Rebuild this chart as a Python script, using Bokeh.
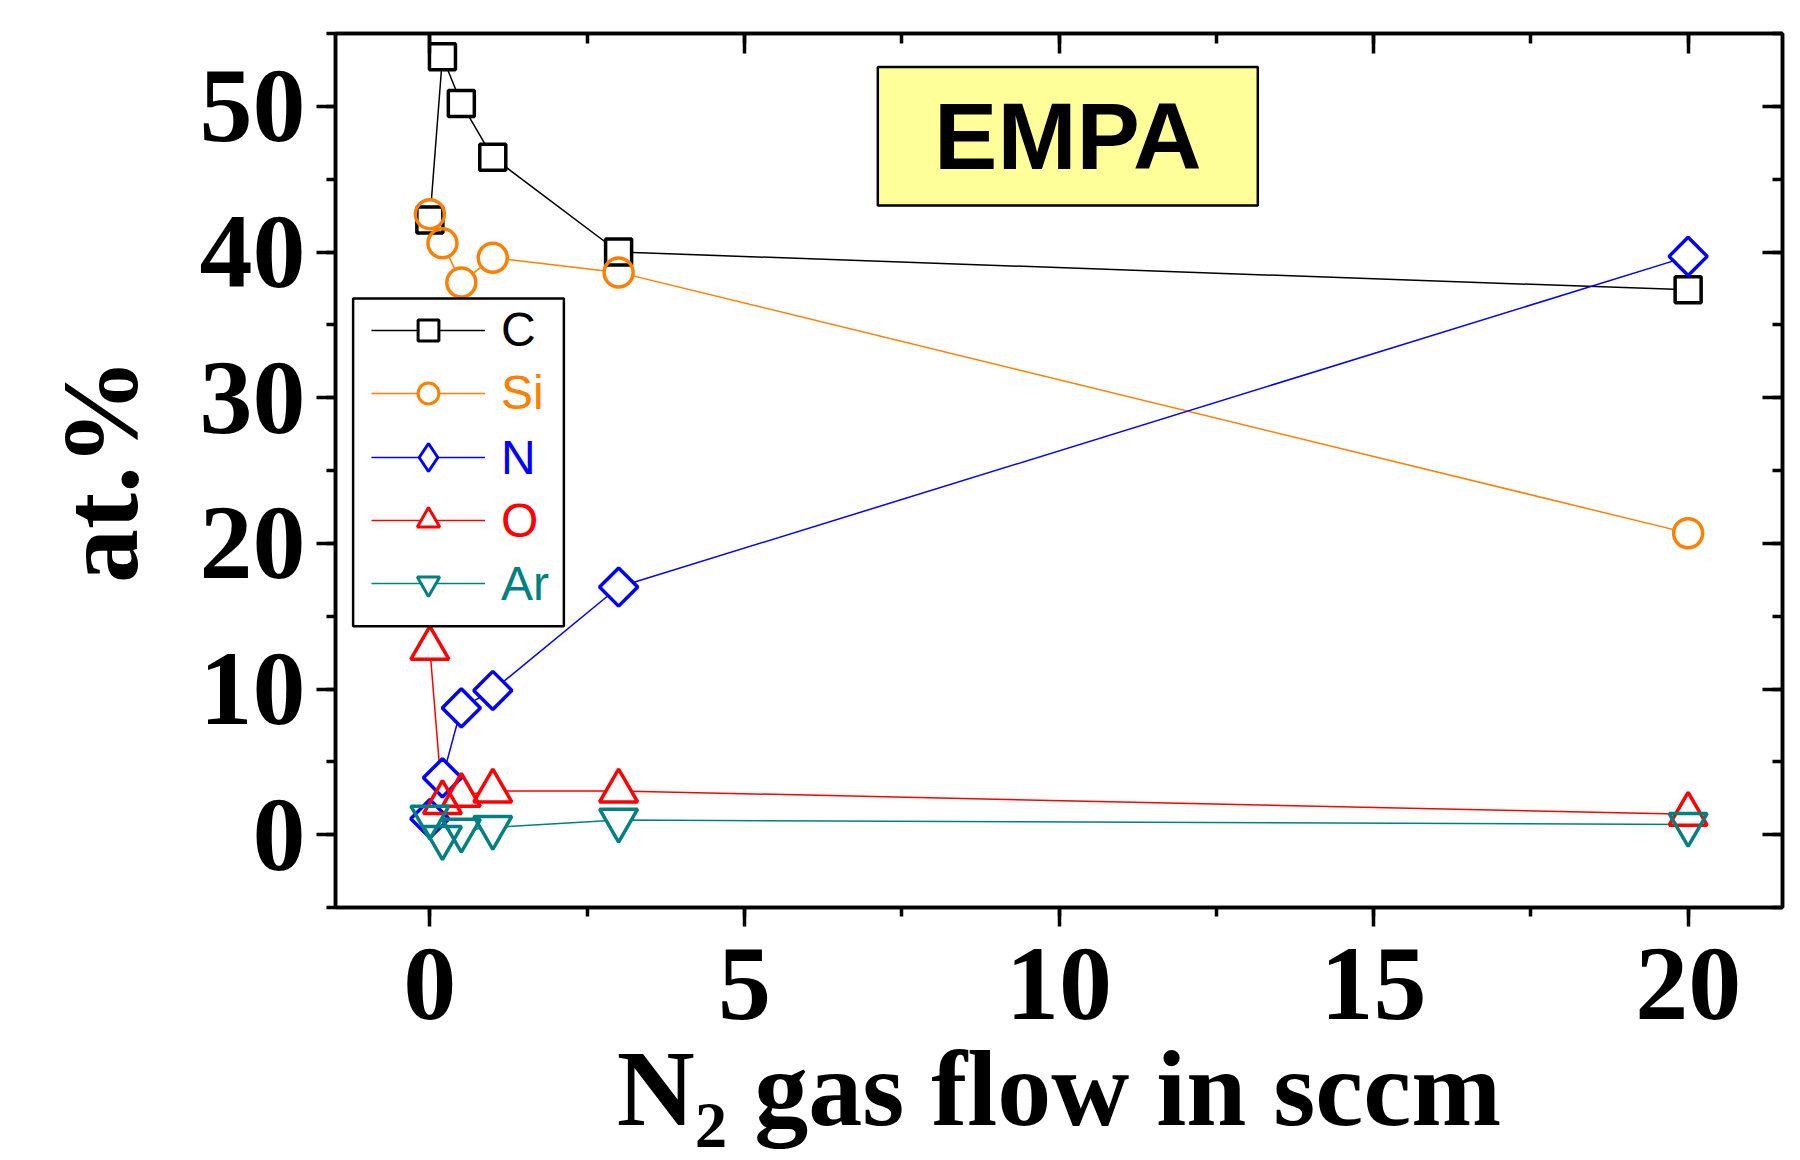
from bokeh.plotting import figure
from bokeh.models import (Range1d, LinearAxis, SingleIntervalTicker, BoxAnnotation,
                          Label, Legend, LegendItem, ColumnDataSource)
from bokeh.embed import file_html
from bokeh.resources import INLINE
import math

# ---- data ----
flow = [0, 0.2, 0.5, 1, 3, 20]
C = [42.2, 53.4, 50.2, 46.5, 40.0, 37.4]
Si = [42.6, 40.6, 37.9, 39.6, 38.6, 20.7]
N = [1.1, 3.9, 8.7, 9.9, 17.0, 39.7]
O = [12.8, 2.2, 2.7, 3.0, 3.0, 1.4]
Ar = [1.2, -0.2, 0.3, 0.5, 1.0, 0.7]
names = ["C", "Si", "N", "O", "Ar"]
x_label = "N\u2082 gas flow in sccm"
y_label = "at.%"
box_text = "EMPA"

# name, values, colour, plot marker, size, angle, legend marker, legend glyph height
series = [
    ("C", C, "#000000", "square", 26, 0.0, "square", 52),
    ("Si", Si, "#FF8000", "circle", 29, 0.0, "circle", 52),
    ("N", N, "#0000FF", "square", 27, math.pi / 4, "diamond", 70),
    ("O", O, "#FF0000", "triangle", 38, 0.0, "triangle", 56),
    ("Ar", Ar, "#008080", "inverted_triangle", 38, 0.0, "inverted_triangle", 56),
]

p = figure(width=1790, height=1156, output_backend="svg", toolbar_location=None,
           x_range=Range1d(-1.5, 21.5), y_range=Range1d(-5, 55),
           min_border_left=335, min_border_right=8, min_border_top=33,
           min_border_bottom=249)
p.xgrid.visible = False
p.ygrid.visible = False
p.outline_line_color = "black"
p.outline_line_width = 3.5
p.background_fill_color = "white"
p.border_fill_color = "white"

SERIF = "Liberation Serif"
SANS = "Liberation Sans"

def style_axis(ax, ticker, out):
    ax.ticker = ticker
    ax.axis_line_width = 3.5
    ax.axis_line_color = "black"
    ax.major_tick_line_width = 3.5
    ax.minor_tick_line_width = 3.5
    ax.major_tick_line_color = "black"
    ax.minor_tick_line_color = "black"
    if out:
        ax.major_tick_out = 19
        ax.major_tick_in = 0
        ax.minor_tick_out = 9
        ax.minor_tick_in = 0
        ax.major_label_text_font = SERIF
        ax.major_label_text_font_style = "bold"
        ax.major_label_text_font_size = "106px"
        ax.major_label_text_color = "black"
        ax.axis_label_text_font = SERIF
        ax.axis_label_text_font_style = "bold"
        ax.axis_label_text_font_size = "108px"
        ax.axis_label_text_color = "black"
    else:
        ax.major_tick_out = 0
        ax.major_tick_in = 20
        ax.minor_tick_out = 0
        ax.minor_tick_in = 10
        ax.major_label_text_font_size = "0px"
        ax.major_label_text_color = None
        ax.major_label_standoff = 0

xb = p.xaxis[0]
style_axis(xb, SingleIntervalTicker(interval=5, num_minor_ticks=2), True)
xb.major_label_standoff = 22
xb.axis_label = x_label
xb.axis_label_standoff = 7

yl = p.yaxis[0]
style_axis(yl, SingleIntervalTicker(interval=10, num_minor_ticks=2), True)
yl.major_label_standoff = 11
yl.axis_label = y_label
yl.axis_label_standoff = 37

top = LinearAxis()
style_axis(top, SingleIntervalTicker(interval=5, num_minor_ticks=2), False)
p.add_layout(top, "above")
right = LinearAxis()
style_axis(right, SingleIntervalTicker(interval=10, num_minor_ticks=2), False)
p.add_layout(right, "right")

# ---- data layers: lines, legend symbols (zero size in plot), marker bodies, outlines ----
srcs = {s[0]: ColumnDataSource(dict(x=flow, y=s[1])) for s in series}
line_r, fill_r, edge_r, lfill_r, ledge_r = {}, {}, {}, {}, {}
for name, vals, col, mk, sz, ang, lmk, gh in series:
    line_r[name] = p.line("x", "y", source=srcs[name], line_color=col, line_width=1.5)
for name, vals, col, mk, sz, ang, lmk, gh in series:
    # legend-only symbols: size 0 in the plot, sized by the legend itself
    lfill_r[name] = p.scatter("x", "y", source=srcs[name], marker=lmk, size=0,
                              fill_color="white", line_color=None)
    ledge_r[name] = p.scatter("x", "y", source=srcs[name], marker=lmk, size=0,
                              fill_alpha=0, line_color=col, line_width=3)
for name, vals, col, mk, sz, ang, lmk, gh in series:
    fill_r[name] = p.scatter("x", "y", source=srcs[name], marker=mk, size=sz, angle=ang,
                             fill_color="white", line_color=None)
for name, vals, col, mk, sz, ang, lmk, gh in series:
    edge_r[name] = p.scatter("x", "y", source=srcs[name], marker=mk, size=sz, angle=ang,
                             fill_alpha=0, line_color=col, line_width=3.5)

# ---- EMPA box ----
p.add_layout(BoxAnnotation(left=7.12, right=13.16, top=52.7, bottom=43.2,
                           fill_color="#FFFF99", fill_alpha=1.0,
                           line_color="black", line_alpha=1.0, line_width=2.5))
p.add_layout(Label(x=10.14, y=47.95, text=box_text, text_align="center",
                   text_baseline="middle", text_font=SANS, text_font_style="bold",
                   text_font_size="95px", text_color="black"))

# ---- legend ----
p.add_layout(BoxAnnotation(left=-1.22, right=2.13, top=36.8, bottom=14.3,
                           fill_color="white", fill_alpha=1.0,
                           line_color="black", line_alpha=1.0, line_width=2.5))
for i, (name, vals, col, mk, sz, ang, lmk, gh) in enumerate(series):
    item = LegendItem(label=name, renderers=[line_r[name], lfill_r[name], ledge_r[name]])
    lg = Legend(items=[item], location=(36, int(576 - 63 * i - gh / 2)), padding=0, margin=0,
                border_line_color=None, background_fill_alpha=0,
                inactive_fill_alpha=0,
                glyph_width=114, glyph_height=gh, label_height=gh,
                label_standoff=16, label_text_font=SANS,
                label_text_font_size="48px", label_text_color=col)
    p.add_layout(lg)

open("out.html", "w").write(file_html(p, INLINE))
